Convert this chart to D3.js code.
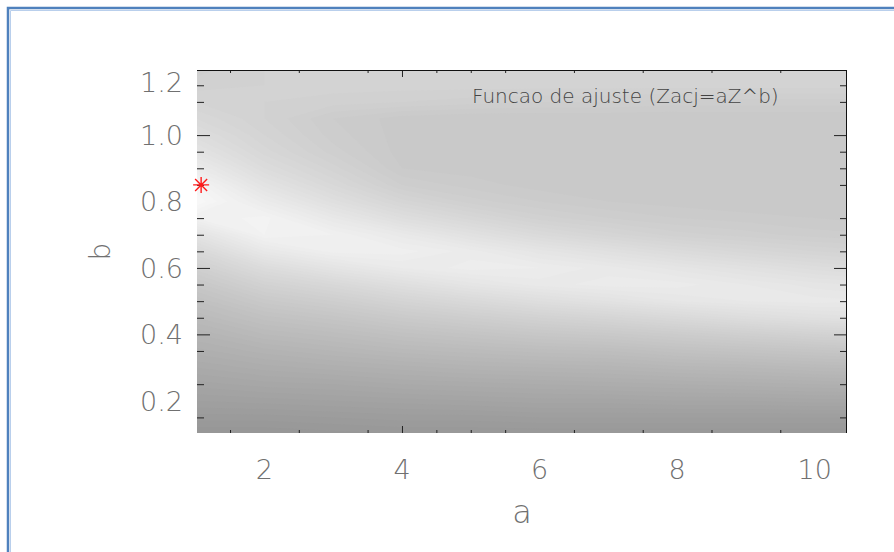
<!DOCTYPE html>
<html>
<head>
<meta charset="utf-8">
<script src="https://cdn.jsdelivr.net/npm/d3@7"></script>
<style>
  body { margin: 0; background: #fff; }
  svg { display: block; }
  text { font-family: "DejaVu Sans", "Liberation Sans", sans-serif; font-weight: 200; }
</style>
</head>
<body>
<svg width="894" height="552"></svg>
<script>
// grid of the misfit map: columns are a, rows are b (from 0.10 up to 1.20)
const aValues = [1, 2, 3, 4, 5, 6, 7, 8, 9, 10, 11];
const bValues = [0.10, 0.15, 0.20, 0.25, 0.30, 0.35, 0.40, 0.45, 0.50, 0.55, 0.60, 0.65,
                 0.70, 0.75, 0.80, 0.85, 0.90, 0.95, 1.00, 1.05, 1.10, 1.15, 1.20];

// gray level, one column per a value, listed from b = 0.10 upward
const shadeA1  = [150,155,160,165,170,175,180,186,192,199,207,216,227,240,248,244,235,227,221,216,212,209,207];
const shadeA2  = [150,155,161,167,173,179,186,193,201,210,220,232,242,243,235,227,220,215,212,210,210,210,210];
const shadeA3  = [151,156,162,168,175,182,189,197,206,216,228,239,240,232,223,216,211,207,205,204,209,211,211];
const shadeA4  = [152,157,163,170,177,185,193,202,212,223,234,239,233,222,213,206,202,201,201,201,208,211,211];
const shadeA5  = [152,157,164,171,179,187,196,206,217,229,237,235,225,215,207,203,201,200,200,200,207,211,211];
const shadeA6  = [152,158,165,172,180,189,199,210,222,233,236,229,218,209,204,201,200,200,200,200,206,211,211];
const shadeA7  = [152,158,165,173,181,190,201,213,226,235,233,224,213,206,202,200,200,200,200,200,206,211,211];
const shadeA8  = [152,158,166,174,183,193,204,217,230,235,229,219,209,204,201,200,200,200,200,200,205,211,211];
const shadeA9  = [152,158,166,175,184,195,207,221,232,232,225,215,207,203,200,200,200,200,200,200,205,211,211];
const shadeA10 = [152,158,167,176,186,197,210,224,233,229,221,212,205,202,200,200,200,200,200,200,205,211,211];
const shadeA11 = [152,158,167,177,187,199,212,226,232,227,218,210,204,201,200,200,200,200,200,200,205,211,211];
const shadeColumns = [shadeA1, shadeA2, shadeA3, shadeA4, shadeA5, shadeA6,
                      shadeA7, shadeA8, shadeA9, shadeA10, shadeA11];

const xMajorTicks = [4];
const xMinorTicks = [1.5, 2.5, 3.5, 4.5, 5, 5.5, 6.5, 7.5, 8.5, 9.5];
const xTickLabels = [2, 4, 6, 8, 10];
const yMajorTicks = [0.4, 0.6, 1.0];
const yMinorTicks = [0.15, 0.25, 0.35, 0.45, 0.5, 0.55, 0.65, 0.7, 0.75, 0.85, 0.9, 0.95, 1.1, 1.15];
const yTickLabels = [0.2, 0.4, 0.6, 0.8, 1.0, 1.2];

const bestFitA = [1.08];
const bestFitB = [0.85];

const titleText = 'Funcao de ajuste (Zacj=aZ^b)';

const svg = d3.select('svg');

const plotLeft = 197, plotRight = 847, plotTop = 70, plotBottom = 433;
const x = d3.scaleLinear().domain([1.02, 10.47]).range([plotLeft, plotRight]);
const y = d3.scaleLinear().domain([0.103, 1.196]).range([plotBottom, plotTop]);

// blue page frame (only its top and left edges are in view)
svg.append('path')
   .attr('d', 'M8,560V8H900')
   .attr('fill', 'none')
   .attr('stroke', '#4f81bd')
   .attr('stroke-width', 2.5);
svg.append('path')
   .attr('d', 'M10.5,560V10.5H900')
   .attr('fill', 'none')
   .attr('stroke', '#b9cfec')
   .attr('stroke-width', 1);

// filled contours
const nx = aValues.length, ny = bValues.length;
const grid = new Array(nx * ny);
for (let j = 0; j < ny; j++) {
  for (let i = 0; i < nx; i++) {
    grid[j * nx + i] = shadeColumns[i][j];
  }
}
const thresholds = d3.range(148, 250, 2);
const contours = d3.contours().size([nx, ny]).thresholds(thresholds)(grid);

const da = aValues[1] - aValues[0];
const db = bValues[1] - bValues[0];
const gridToScreen = d3.geoTransform({
  point(gx, gy) {
    this.stream.point(x(aValues[0] + (gx - 0.5) * da), y(bValues[0] + (gy - 0.5) * db));
  }
});
const path = d3.geoPath(gridToScreen);

svg.append('clipPath')
   .attr('id', 'plot-clip')
   .append('rect')
   .attr('x', plotLeft).attr('y', plotTop)
   .attr('width', plotRight - plotLeft).attr('height', plotBottom - plotTop);

svg.append('g')
   .attr('clip-path', 'url(#plot-clip)')
   .selectAll('path')
   .data(contours)
   .enter()
   .append('path')
   .attr('d', path)
   .attr('fill', (d) => {
     const v = Math.min(255, d.value + 1);
     return d3.rgb(v, v, v);
   });

// ticks, all pointing inward
const noDomain = (g) => g.select('.domain').remove();
const tickStyle = (g) => g.selectAll('line').attr('stroke', '#222');

svg.append('g').attr('transform', `translate(0,${plotBottom})`)
   .call(d3.axisBottom(x).tickValues(xMinorTicks).tickSize(-3).tickFormat(''))
   .call(noDomain).call(tickStyle);
svg.append('g').attr('transform', `translate(0,${plotBottom})`)
   .call(d3.axisBottom(x).tickValues(xMajorTicks).tickSize(-7).tickFormat(''))
   .call(noDomain).call(tickStyle);
svg.append('g').attr('transform', `translate(0,${plotTop})`)
   .call(d3.axisTop(x).tickValues(xMinorTicks).tickSize(-3).tickFormat(''))
   .call(noDomain).call(tickStyle);
svg.append('g').attr('transform', `translate(0,${plotTop})`)
   .call(d3.axisTop(x).tickValues(xMajorTicks).tickSize(-7).tickFormat(''))
   .call(noDomain).call(tickStyle);

svg.append('g').attr('transform', `translate(${plotLeft},0)`)
   .call(d3.axisLeft(y).tickValues(yMinorTicks).tickSize(-7).tickFormat(''))
   .call(noDomain).call(tickStyle);
svg.append('g').attr('transform', `translate(${plotLeft},0)`)
   .call(d3.axisLeft(y).tickValues(yMajorTicks).tickSize(-13).tickFormat(''))
   .call(noDomain).call(tickStyle);
svg.append('g').attr('transform', `translate(${plotRight},0)`)
   .call(d3.axisRight(y).tickValues(yMinorTicks).tickSize(-7).tickFormat(''))
   .call(noDomain).call(tickStyle);
svg.append('g').attr('transform', `translate(${plotRight},0)`)
   .call(d3.axisRight(y).tickValues(yMajorTicks).tickSize(-13).tickFormat(''))
   .call(noDomain).call(tickStyle);

// top and right frame lines
svg.append('line')
   .attr('x1', plotLeft).attr('x2', plotRight)
   .attr('y1', plotTop + 0.5).attr('y2', plotTop + 0.5)
   .attr('stroke', '#111');
svg.append('line')
   .attr('x1', plotRight - 0.5).attr('x2', plotRight - 0.5)
   .attr('y1', plotTop).attr('y2', plotBottom)
   .attr('stroke', '#111');

// tick labels
svg.append('g')
   .selectAll('text')
   .data(xTickLabels)
   .enter()
   .append('text')
   .attr('x', (d) => x(d))
   .attr('y', plotBottom + 46)
   .attr('text-anchor', 'middle')
   .attr('font-size', 27)
   .attr('fill', '#707070')
   .text((d) => d);

svg.append('g')
   .selectAll('text')
   .data(yTickLabels)
   .enter()
   .append('text')
   .attr('x', plotLeft - 14)
   .attr('y', (d) => Math.max(y(d), plotTop + 12))
   .attr('dy', '0.36em')
   .attr('text-anchor', 'end')
   .attr('font-size', 27)
   .attr('fill', '#707070')
   .text((d) => d.toFixed(1));

// axis titles
svg.append('text')
   .attr('x', (plotLeft + plotRight) / 2)
   .attr('y', plotBottom + 90)
   .attr('text-anchor', 'middle')
   .attr('font-size', 32)
   .attr('fill', '#707070')
   .text('a');

svg.append('text')
   .attr('transform', `translate(100,${(plotTop + plotBottom) / 2}) rotate(-90)`)
   .attr('dy', '0.36em')
   .attr('text-anchor', 'middle')
   .attr('font-size', 28)
   .attr('fill', '#707070')
   .text('b');

// plot title
svg.append('text')
   .attr('x', 472)
   .attr('y', 103)
   .attr('font-size', 20)
   .attr('fill', '#444')
   .text(titleText);

// best-fit marker
svg.append('g')
   .selectAll('path')
   .data(bestFitA.map((a, i) => [a, bestFitB[i]]))
   .enter()
   .append('path')
   .attr('transform', (d) => `translate(${x(d[0])},${y(d[1])})`)
   .attr('d', 'M-8,0H8M0,-8V8M-6,-6L6,6M-6,6L6,-6')
   .attr('stroke', '#ff1a1a')
   .attr('stroke-width', 1.4)
   .attr('fill', 'none');
</script>
</body>
</html>
